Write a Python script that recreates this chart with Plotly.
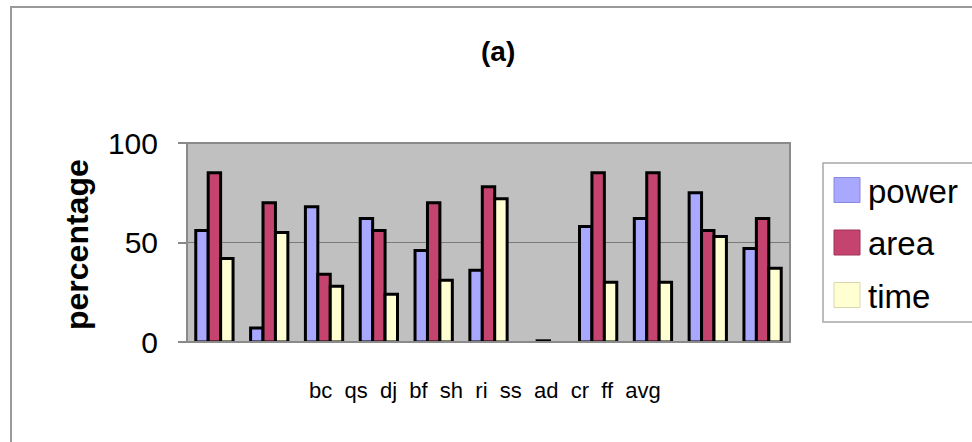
import plotly.graph_objects as go

# Benchmarks and the three measured savings (percent)
categories = ["bc", "qs", "dj", "bf", "sh", "ri", "ss", "ad", "cr", "ff", "avg"]
power = [56, 7, 68, 62, 46, 36, 0, 58, 62, 75, 47]
area = [85, 70, 34, 56, 70, 78, 0.6, 85, 85, 56, 62]
time = [42, 55, 28, 24, 31, 72, 0, 30, 30, 53, 37]

series_names = ["power", "area", "time"]
series_values = [power, area, time]
series_colors = ["#A8A8FF", "#C4446F", "#FFFFD2"]
swatch_edges = ["#8888DD", "#A03058", "#D8D8B0"]

W, H = 972, 442
PL, PR, PT, PB = 187, 790, 143, 342  # plot-area edges in pixels

FONT = "Liberation Sans, Arial, sans-serif"


def px_x(px):
    return (px - PL) / (PR - PL)


def px_y(py):
    return (PB - py) / (PB - PT)


fig = go.Figure()
for name, vals, col in zip(series_names, series_values, series_colors):
    # empty bars get no outline so nothing is drawn on the baseline
    widths = [3 if v > 0 else 0 for v in vals]
    fig.add_trace(go.Bar(
        x=categories, y=vals, name=name,
        marker=dict(color=col, line=dict(color="black", width=widths)),
        showlegend=False,
    ))

shapes = []
annotations = []

# outer chart frame
shapes.append(dict(type="rect", xref="paper", yref="paper",
                   x0=px_x(11), x1=px_x(W + 20), y0=px_y(7), y1=px_y(H + 20),
                   line=dict(color="#9a9a9a", width=2), fillcolor="rgba(0,0,0,0)",
                   layer="below"))
# plot-area border
shapes.append(dict(type="rect", xref="paper", yref="paper",
                   x0=0, x1=1, y0=0, y1=1,
                   line=dict(color="#8a8a8a", width=2), fillcolor="rgba(0,0,0,0)"))

# legend box with swatches
shapes.append(dict(type="rect", xref="paper", yref="paper",
                   x0=px_x(823), x1=px_x(W + 20), y0=px_y(163), y1=px_y(322),
                   line=dict(color="#a8a8a8", width=1.5), fillcolor="white"))
for i, (name, col, edge) in enumerate(zip(series_names, series_colors, swatch_edges)):
    cy = 190 + i * 52.5
    shapes.append(dict(type="rect", xref="paper", yref="paper",
                       x0=px_x(834), x1=px_x(860), y0=px_y(cy - 12.5), y1=px_y(cy + 12.5),
                       line=dict(color=edge, width=1), fillcolor=col))
    annotations.append(dict(text=name, xref="paper", yref="paper",
                            x=px_x(866), y=px_y(cy + 1), xanchor="left", yanchor="middle",
                            showarrow=False, font=dict(family=FONT, size=33, color="black")))

# y-axis title
annotations.append(dict(text="<b>percentage</b>", xref="paper", yref="paper",
                        x=px_x(77), y=px_y(245), textangle=-90,
                        xanchor="center", yanchor="middle", showarrow=False,
                        font=dict(family=FONT, size=32, color="black")))

# category names printed as one line under the plot
annotations.append(dict(text="&nbsp;&nbsp;".join(categories), xref="paper", yref="paper",
                        x=px_x(485), y=px_y(390), xanchor="center", yanchor="middle",
                        showarrow=False, font=dict(family=FONT, size=22, color="black")))

# chart title
annotations.append(dict(text="<b>(a)</b>", xref="paper", yref="paper",
                        x=px_x(498), y=px_y(52), xanchor="center", yanchor="middle",
                        showarrow=False, font=dict(family=FONT, size=28, color="black")))

fig.update_layout(
    width=W, height=H,
    margin=dict(l=PL, r=W - PR, t=PT, b=H - PB),
    paper_bgcolor="white",
    plot_bgcolor="#C0C0C0",
    barmode="group",
    bargap=0.32,
    bargroupgap=0,
    xaxis=dict(showticklabels=False, ticks="", showgrid=False, zeroline=False,
               range=[-0.5, len(categories) - 0.5], showline=False),
    yaxis=dict(range=[0, 100], tickvals=[0, 50, 100], ticks="outside", ticklen=8,
               tickcolor="#888888", tickwidth=1.5, ticklabelstandoff=14,
               tickfont=dict(family=FONT, size=30, color="black"),
               showgrid=True, gridcolor="#7a7a7a", gridwidth=1,
               zeroline=False, showline=False),
    shapes=shapes,
    annotations=annotations,
)

fig.write_html("out.html")
